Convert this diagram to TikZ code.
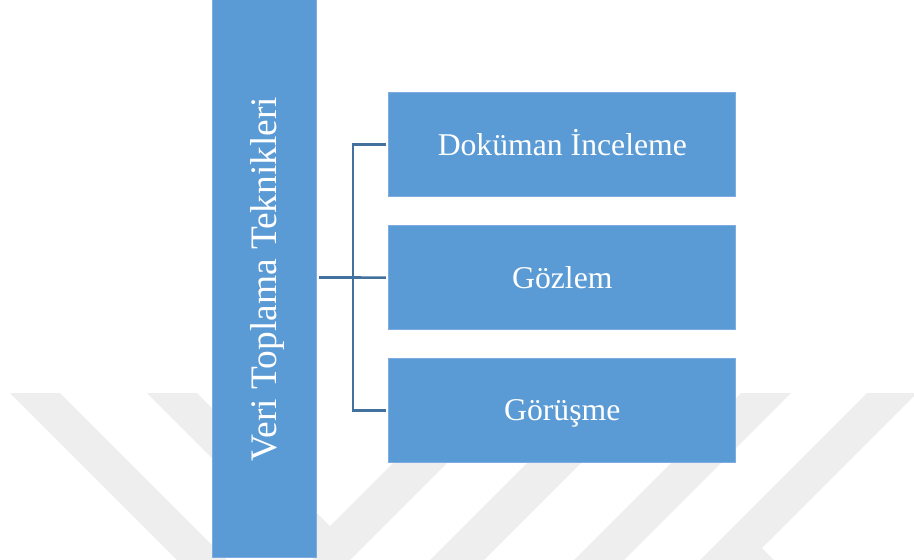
\documentclass[tikz,border=0pt]{standalone}
\usepackage{fontspec}
\setmainfont{Liberation Serif}
\definecolor{boxfill}{HTML}{5B9BD5}
\definecolor{boxedge}{HTML}{7EACE0}
\definecolor{linkblue}{HTML}{41719C}
\definecolor{markgrey}{HTML}{EEEEEE}
\tikzset{
  stepbox/.style={rectangle, fill=boxfill, draw=boxedge, line width=0.8pt,
    text=white, inner sep=0pt},
  itembox/.style={stepbox, minimum width=347pt, minimum height=104pt,
    text height=21pt, text depth=0pt,
    font=\fontsize{31.7}{38}\selectfont},
  link/.style={draw=linkblue, line width=2.6pt},
  emblem/.style={fill=markgrey, draw=none}
}
\begin{document}
\begin{tikzpicture}[x=1pt, y=-1pt]
  \useasboundingbox (0,0) rectangle (914,560);
  % faint background emblem
  \begin{scope}
    \clip (0,0) rectangle (914,560);
    \fill[emblem] (10,393) -- (60,393) -- (227,560) -- (177,560) -- cycle;
    \fill[emblem] (147,393) -- (197,393) -- (330,526) -- (463,393) -- (517,393)
                -- (350,560) -- (314,560) -- cycle;
    \fill[emblem] (597,393) -- (651,393) -- (484,560) -- (430,560) -- cycle;
    \fill[emblem] (741,393) -- (791,393) -- (624,560) -- (574,560) -- cycle;
    \fill[emblem] (867,393) -- (917,393) -- (762,548) -- (774,560) -- (700,560) -- cycle;
  \end{scope}

  % main heading box
  \node[stepbox, minimum width=104pt, minimum height=560pt]
        (tall) at (264.7,277.5) {};
  \node[text=white, rotate=90, inner sep=0pt, text height=24.5pt, text depth=0pt,
        font=\fontsize{37.4}{45}\selectfont]
        (title) at (264,279) {Veri Toplama Teknikleri};

  % item boxes
  \node[itembox] (b1) at (562.3,144.5) {Doküman İnceleme};
  \node[itembox] (b2) at (562.3,277.7) {Gözlem};
  \node[itembox] (b3) at (562.3,410.3) {Görüşme};

  % bracket connector
  \coordinate (j) at (353,277.5);
  \draw[link, shorten <=2pt] (tall.east |- j) -- (j);
  \draw[link, shorten >=2.5pt] (j) -- (b2.west);
  \draw[link, shorten <=2.5pt, shorten >=2.5pt]
       (b1.west) -- (j |- b1.west) -- (j |- b3.west) -- (b3.west);
\end{tikzpicture}
\end{document}
